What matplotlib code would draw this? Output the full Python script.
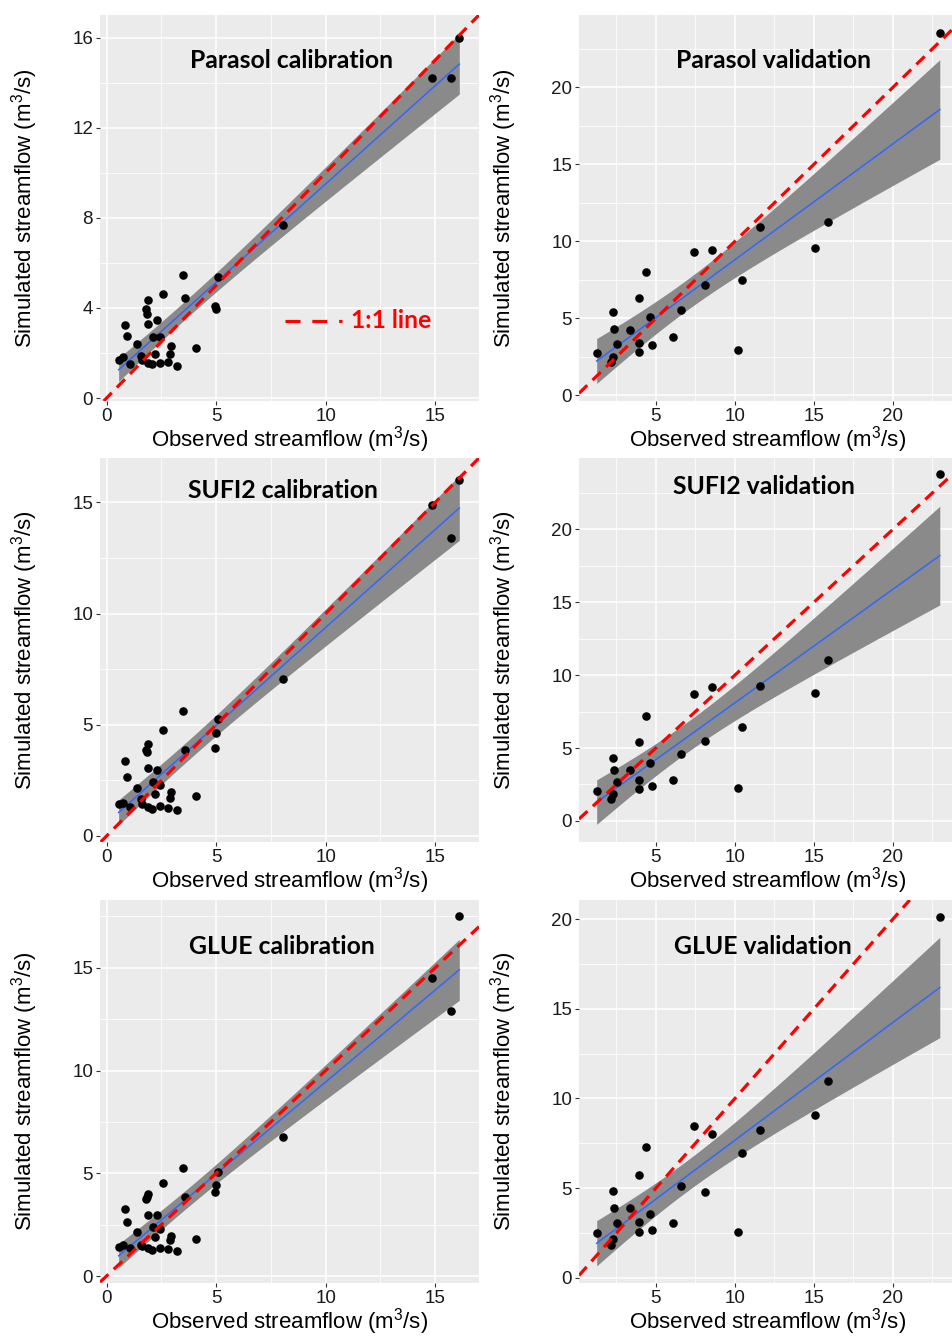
import numpy as np
import matplotlib.pyplot as plt
from matplotlib.ticker import MultipleLocator

plt.rcParams['font.family'] = ['Liberation Sans', 'DejaVu Sans']
plt.rcParams['mathtext.default'] = 'regular'

# observed streamflow (m3/s), same for the three methods
obs_cal = [3.47, 5.07, 2.56, 1.88, 3.56, 1.79, 1.85, 4.94, 4.98, 0.85,
           1.88, 2.30, 0.94, 2.12, 2.44, 1.41, 2.95, 4.10, 2.88, 2.20,
           1.55, 0.55, 0.77, 1.62, 1.90, 2.08, 2.44, 2.80, 3.20, 1.06,
           8.05, 14.86, 15.70, 16.10]
obs_val = [1.25, 2.28, 2.32, 2.51, 2.26, 2.17, 3.35, 3.92, 4.37, 3.94,
           3.90, 4.64, 4.73, 6.08, 6.56, 7.39, 8.57, 8.08, 10.42, 10.21,
           11.60, 15.04, 15.87, 22.97]

# simulated streamflow
parasol_cal = [5.46, 5.36, 4.60, 4.36, 4.42, 3.96, 3.73, 4.07, 3.95, 3.26,
               3.29, 3.45, 2.76, 2.72, 2.73, 2.39, 2.29, 2.22, 1.94, 1.94,
               1.88, 1.67, 1.82, 1.67, 1.54, 1.50, 1.56, 1.59, 1.42, 1.50,
               7.66, 14.2, 14.2, 16.0]
sufi2_cal = [5.63, 5.26, 4.77, 4.14, 3.86, 3.87, 3.80, 3.96, 4.61, 3.38,
             3.05, 2.97, 2.64, 2.45, 2.28, 2.18, 1.97, 1.80, 1.71, 1.88,
             1.65, 1.43, 1.50, 1.43, 1.29, 1.23, 1.35, 1.27, 1.17, 1.29,
             7.07, 14.9, 13.4, 16.0]
glue_cal = [5.25, 5.04, 4.55, 3.98, 3.84, 3.74, 3.85, 4.08, 4.41, 3.27,
            2.98, 2.96, 2.62, 2.37, 2.28, 2.16, 1.97, 1.82, 1.74, 1.89,
            1.51, 1.43, 1.50, 1.45, 1.35, 1.28, 1.35, 1.30, 1.22, 1.35,
            6.78, 14.5, 12.9, 17.5]
parasol_val = [2.74, 5.39, 4.29, 3.35, 2.48, 2.16, 4.25, 6.30, 8.00, 3.41,
               2.80, 5.09, 3.28, 3.78, 5.57, 9.32, 9.43, 7.18, 7.46, 2.96,
               10.96, 9.56, 11.26, 23.5]
sufi2_val = [2.07, 4.34, 3.47, 2.67, 1.82, 1.49, 3.49, 5.40, 7.17, 2.78,
             2.18, 3.98, 2.39, 2.78, 4.60, 8.71, 9.22, 5.45, 6.46, 2.23,
             9.24, 8.80, 11.03, 23.8]
glue_val = [2.48, 4.85, 3.91, 3.04, 2.17, 1.85, 3.91, 5.76, 7.31, 3.13,
            2.57, 3.54, 2.67, 3.04, 5.11, 8.44, 8.04, 4.81, 6.94, 2.57,
            8.22, 9.07, 11.0, 20.1]

# t quantiles (0.975) for n-2 degrees of freedom
t_cal = 2.0369   # df = 32
t_val = 2.0739   # df = 22

W, H = 953, 1338
fig = plt.figure(figsize=(W / 100, H / 100), dpi=100)


def px_axes(x0, y0, x1, y1):
    return fig.add_axes([x0 / W, 1 - y1 / H, (x1 - x0) / W, (y1 - y0) / H])


def smooth(ax, x, y, t):
    # lm fit with 95% confidence band, like geom_smooth(method = "lm")
    x = np.asarray(x)
    y = np.asarray(y)
    n = len(x)
    b, a = np.polyfit(x, y, 1)
    xs = np.linspace(x.min(), x.max(), 80)
    fit = a + b * xs
    s = np.sqrt(np.sum((y - (a + b * x)) ** 2) / (n - 2))
    se = s * np.sqrt(1 / n + (xs - x.mean()) ** 2 / np.sum((x - x.mean()) ** 2))
    ax.fill_between(xs, fit - t * se, fit + t * se, color='#8a8a8a', lw=0, zorder=2)
    ax.plot(xs, fit, color='#3366FF', lw=1.1, zorder=3)


def panel(box, x, y, t, xlim, ylim, ystep, title, title_xy):
    ax = px_axes(*box)
    ax.set_facecolor('#EBEBEB')
    smooth(ax, x, y, t)
    ax.scatter(x, y, s=38, color='black', lw=0, zorder=4)
    ax.axline((0, 0), slope=1, color='#FF0000', lw=2.3, dashes=(3.6, 2.3), zorder=5)
    ax.set_xlim(*xlim)
    ax.set_ylim(*ylim)
    ax.xaxis.set_major_locator(MultipleLocator(5))
    ax.xaxis.set_minor_locator(MultipleLocator(2.5))
    ax.yaxis.set_major_locator(MultipleLocator(ystep))
    ax.yaxis.set_minor_locator(MultipleLocator(ystep / 2))
    ax.grid(which='major', color='white', lw=1.1)
    ax.grid(which='minor', color='white', lw=0.55)
    ax.set_axisbelow(True)
    for sp in ax.spines.values():
        sp.set_visible(False)
    ax.tick_params(which='major', length=3, width=0.8, color='#333333',
                   labelcolor='#1a1a1a', labelsize=13.5, pad=2)
    ax.tick_params(which='minor', length=0)
    cx = (box[0] + box[2]) / 2
    cy = (box[1] + box[3]) / 2
    fig.text(cx / W, 1 - (box[3] + 39) / H, 'Observed streamflow (m$^3$/s)',
             ha='center', va='center', fontsize=16)
    fig.text((box[0] - 75) / W, 1 - cy / H, 'Simulated streamflow (m$^3$/s)',
             ha='center', va='center', rotation=90, fontsize=16)
    fig.text(title_xy[0] / W, 1 - title_xy[1] / H, title, ha='center', va='center',
             fontsize=17.8, fontweight='bold', family=['Lato', 'DejaVu Sans'])
    return ax


left = (100, 479)
right = (579, 957)
rows = [(15, 401), (458, 842), (900, 1283)]
xlim_cal = (-0.3, 17.0)
xlim_val = (0.13, 24.06)

panel((left[0], rows[0][0], left[1], rows[0][1]), obs_cal, parasol_cal, t_cal,
      xlim_cal, (-0.13, 17.0), 4, 'Parasol calibration', (291, 60))
panel((right[0], rows[0][0], right[1], rows[0][1]), obs_val, parasol_val, t_val,
      xlim_val, (-0.37, 24.7), 5, 'Parasol validation', (774, 60))
panel((left[0], rows[1][0], left[1], rows[1][1]), obs_cal, sufi2_cal, t_cal,
      xlim_cal, (-0.27, 17.0), 5, 'SUFI2 calibration', (283, 490))
panel((right[0], rows[1][0], right[1], rows[1][1]), obs_val, sufi2_val, t_val,
      xlim_val, (-1.45, 24.9), 5, 'SUFI2 validation', (764, 487))
panel((left[0], rows[2][0], left[1], rows[2][1]), obs_cal, glue_cal, t_cal,
      xlim_cal, (-0.34, 18.3), 5, 'GLUE calibration', (282, 947))
panel((right[0], rows[2][0], right[1], rows[2][1]), obs_val, glue_val, t_val,
      xlim_val, (-0.29, 21.07), 5, 'GLUE validation', (763, 947))

# 1:1 line key in the first panel
ky = 1 - 321 / H
fig.add_artist(plt.Line2D([285 / W, 342 / W], [ky, ky], color='#FF0000', lw=2.3,
                          dashes=(4.7, 3.7), solid_capstyle='butt', dash_capstyle='butt'))
fig.text(351 / W, ky, '1:1 line', color='#FF0000', fontsize=17.8, fontweight='bold',
         va='center', ha='left', family=['Lato', 'DejaVu Sans'])

fig.savefig('out.png', dpi=100)
